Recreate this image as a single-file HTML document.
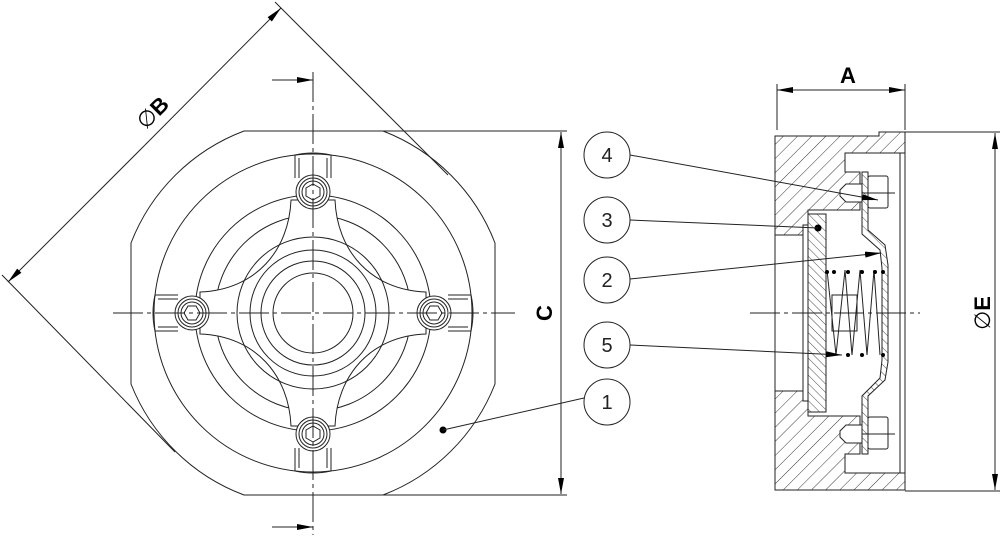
<!DOCTYPE html>
<html><head><meta charset="utf-8"><style>
html,body{margin:0;padding:0;background:#fff}
svg{display:block}
text{font-family:"Liberation Sans",sans-serif}
</style></head><body>
<svg width="1000" height="537" viewBox="0 0 1000 537" xmlns="http://www.w3.org/2000/svg">
<defs>
<pattern id="h" width="10" height="10" patternUnits="userSpaceOnUse" patternTransform="rotate(45)">
<rect width="10" height="10" fill="#fff"/><line x1="0" y1="0" x2="0" y2="10" stroke="#222" stroke-width="0.9"/>
</pattern>
<pattern id="h2" width="6" height="6" patternUnits="userSpaceOnUse" patternTransform="rotate(-45)">
<rect width="6" height="6" fill="#fff"/><line x1="0" y1="0" x2="0" y2="6" stroke="#222" stroke-width="0.8"/>
</pattern>
<marker id="ar2" viewBox="0 0 16 6" refX="16" refY="3" markerWidth="16" markerHeight="6" orient="auto" markerUnits="userSpaceOnUse"><path d="M0,0 L16,3 L0,6z" fill="#000"/></marker>
</defs>
<g fill="none" stroke="#222" stroke-width="1">
<path d="M244,131 L383,131 A195,195 0 0 1 495,243 L495,384 A195,195 0 0 1 383,495 L244,495 A195,195 0 0 1 131,384 L131,243 A195,195 0 0 1 244,131 Z"/>
<circle cx="313" cy="313" r="159"/>
<circle cx="313" cy="313" r="118"/>
<circle cx="313" cy="313" r="98"/>
<!-- spider -->
<path fill="#fff" d="M291,200 C289,250 256,290 200,292 L200,334 C256,336 289,376 291,426 L335,426 C337,376 370,336 426,334 L426,292 C370,290 337,250 335,200 Z"/>
<circle cx="313" cy="313" r="76"/><circle cx="313" cy="313" r="63"/><circle cx="313" cy="313" r="52"/><circle cx="313" cy="313" r="40"/>
<g id="slot">
<path d="M295,178 L295,155 Q313,151 331,155 L331,178"/>
<path d="M299,178 L299,158 M327,178 L327,158"/>
<circle cx="313" cy="192" r="17" fill="#fff"/><circle cx="313" cy="192" r="14"/><circle cx="313" cy="192" r="11"/>
<path d="M313,184 L320,188 L320,196 L313,200 L306,196 L306,188 Z"/>
</g>
<use href="#slot" transform="rotate(90 313 313)"/>
<use href="#slot" transform="rotate(180 313 313)"/>
<use href="#slot" transform="rotate(270 313 313)"/>
<line x1="313" y1="72" x2="313" y2="535" stroke-dasharray="30,4,4,4"/>
<line x1="113" y1="313" x2="515" y2="313" stroke-dasharray="30,4,4,4"/>
<line x1="272" y1="80" x2="313" y2="80" marker-end="url(#ar2)"/>
<line x1="272" y1="527" x2="313" y2="527" marker-end="url(#ar2)"/>
<line x1="383" y1="131" x2="567" y2="131"/><line x1="383" y1="495" x2="567" y2="495"/>
<line x1="561" y1="313" x2="561" y2="132" marker-end="url(#ar2)"/>
<line x1="561" y1="313" x2="561" y2="494" marker-end="url(#ar2)"/>
<line x1="275" y1="2" x2="448" y2="175"/>
<line x1="2" y1="275" x2="175" y2="452"/>
<line x1="145" y1="145" x2="281" y2="8" marker-end="url(#ar2)"/>
<line x1="145" y1="145" x2="8" y2="282" marker-end="url(#ar2)"/>
<!-- side view -->
<path fill="url(#h)" d="M775,136 L879,136 L879,132 L905,132 L905,153 L845,153 L845,172 L860,172 L860,210 L808,210 L808,225 L803,225 L803,235 L775,235 Z"/>
<path fill="url(#h)" d="M775,490 L905,490 L905,473 L845,473 L845,454 L860,454 L860,416 L808,416 L808,401 L803,401 L803,391 L775,391 Z"/>
<line x1="775" y1="235" x2="775" y2="391"/>
<line x1="803" y1="235" x2="803" y2="391"/>
<line x1="905" y1="153" x2="905" y2="473"/>
<line x1="900" y1="153" x2="900" y2="473"/>
<rect x="808" y="214" width="18" height="198" fill="url(#h2)"/>
<path fill="url(#h2)" d="M862,172 L868,172 L868,230 L885,245 L888,265 L888,362 L885,380 L868,396 L868,454 L862,454 L862,396 L880,378 L882,360 L882,268 L880,250 L862,234 Z"/>
<path d="M827,270 L836,355 L845,270 L852,355 L860,270 L867,355 L874,270 L880,355"/>
<rect x="832" y="295" width="25" height="36"/>
<g fill="#000" stroke="none">
<circle cx="827" cy="272" r="2"/><circle cx="834" cy="272" r="2"/><circle cx="848" cy="272" r="2"/><circle cx="862" cy="272" r="2"/><circle cx="875" cy="272" r="2"/><circle cx="883" cy="272" r="2"/>
<circle cx="848" cy="355" r="2"/><circle cx="862" cy="355" r="2"/><circle cx="883" cy="355" r="2"/>
<circle cx="818" cy="228" r="3.5"/><circle cx="443" cy="430" r="3.5"/>
</g>
<g id="sb" fill="#fff">
<path d="M846,184 L862,184 L862,202 L846,202 L840,196 L840,190 Z"/>
<rect x="868" y="176" width="20" height="32" rx="2"/>
<line x1="862" y1="193" x2="895" y2="193"/>
</g>
<use href="#sb" transform="translate(0,241)"/>
<line x1="750" y1="313" x2="920" y2="313" stroke-dasharray="30,4,4,4"/>
<circle cx="607" cy="155" r="23" fill="#fff"/><circle cx="607" cy="220" r="23" fill="#fff"/><circle cx="607" cy="280" r="23" fill="#fff"/><circle cx="607" cy="345" r="23" fill="#fff"/><circle cx="607" cy="402" r="23" fill="#fff"/>
<line x1="630" y1="155" x2="878" y2="200" marker-end="url(#ar2)"/>
<line x1="630" y1="220" x2="818" y2="228"/>
<line x1="630" y1="279" x2="881" y2="253" marker-end="url(#ar2)"/>
<line x1="630" y1="345" x2="842" y2="355" marker-end="url(#ar2)"/>
<line x1="584" y1="398" x2="443" y2="430"/>
<line x1="777" y1="84" x2="777" y2="130"/><line x1="905" y1="84" x2="905" y2="130"/>
<line x1="840" y1="90" x2="777" y2="90" marker-end="url(#ar2)"/>
<line x1="840" y1="90" x2="905" y2="90" marker-end="url(#ar2)"/>
<line x1="905" y1="132" x2="1000" y2="132"/><line x1="905" y1="491" x2="1000" y2="491"/>
<line x1="995" y1="313" x2="995" y2="133" marker-end="url(#ar2)"/>
<line x1="995" y1="313" x2="995" y2="490" marker-end="url(#ar2)"/>
</g>
<g font-size="20" fill="#222">
<text x="607" y="162" text-anchor="middle">4</text>
<text x="607" y="227" text-anchor="middle">3</text>
<text x="607" y="287" text-anchor="middle">2</text>
<text x="607" y="352" text-anchor="middle">5</text>
<text x="607" y="409" text-anchor="middle">1</text>
</g>
<g font-size="22" font-weight="bold" fill="#000">
<text x="848" y="83" text-anchor="middle">A</text>
<text transform="translate(552,313) rotate(-90)" text-anchor="middle">C</text>
<text transform="translate(158,118) rotate(-45)" text-anchor="middle"><tspan font-weight="normal">∅</tspan>B</text>
<text transform="translate(990,313) rotate(-90)" text-anchor="middle"><tspan font-weight="normal">∅</tspan>E</text>
</g>
</svg>
</body></html>
